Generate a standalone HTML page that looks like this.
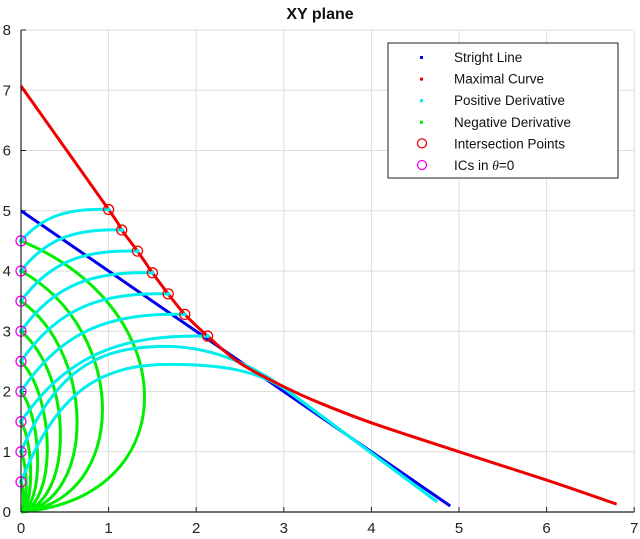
<!DOCTYPE html>
<html><head><meta charset="utf-8"><style>
html,body{margin:0;padding:0;background:#fff;}
svg{display:block;font-family:"Liberation Sans",sans-serif;}
</style></head><body>
<svg id="chart" width="640" height="539"></svg>
<script>
const xTicks=[0,1,2,3,4,5,6,7];
const yTicks=[0,1,2,3,4,5,6,7,8];
const lineX=[0,4.9];
const lineY=[5,0.1];
const maxX=[0,1.0,1.15,1.33,1.5,1.68,1.87,2.13,2.5,3,3.41,4,5,6,6.8];
const maxY=[7.07,5.02,4.68,4.33,3.97,3.62,3.28,2.92,2.47,2.08,1.81,1.48,1.0,0.53,0.13];
const icY=[0.5,1,1.5,2,2.5,3,3.5,4,4.5];
const circX=[2.13,1.87,1.68,1.5,1.33,1.15,1.0];
const circY=[2.92,3.28,3.62,3.97,4.33,4.68,5.02];
const greenBulge=[0.03,0.06,0.11,0.19,0.30,0.45,0.64,0.93,1.41];
const tailPeakX=[1.7,1.65];
const tailPeakY=[2.45,2.75];

const X0=21,UX=87.6,Y0=512,UY=60.25;
const sx=v=>X0+v*UX, sy=v=>Y0-v*UY;
const svg=document.getElementById('chart');
const NS='http://www.w3.org/2000/svg';
function mk(tag,attrs,parent){const e=document.createElementNS(NS,tag);for(const k in attrs)e.setAttribute(k,attrs[k]);(parent||svg).appendChild(e);return e;}

const grid=mk('g',{});


xTicks.forEach(t=>{mk('line',{x1:sx(t),x2:sx(t),y1:sy(0),y2:sy(8),stroke:'#dedede','stroke-width':1},grid);});
yTicks.forEach(t=>{mk('line',{x1:sx(0),x2:sx(7),y1:sy(t),y2:sy(t),stroke:'#dedede','stroke-width':1},grid);});

const xl=mk('g',{});


xTicks.forEach(t=>{
  mk('line',{x1:sx(t),x2:sx(t),y1:Y0,y2:Y0-5,stroke:'#222'},xl);
  const tx=mk('text',{x:sx(t),y:533,'font-size':15,'text-anchor':'middle',fill:'#222'},xl);tx.textContent=t;
});
const yl=mk('g',{});


yTicks.forEach(t=>{
  mk('line',{x1:X0,x2:X0+5,y1:sy(t),y2:sy(t),stroke:'#222'},yl);
  const tx=mk('text',{x:11,y:sy(t)+5,'font-size':15,'text-anchor':'end',fill:'#222'},yl);tx.textContent=t;
});

function smooth(pts){
  let d='M'+pts[0][0]+','+pts[0][1];
  for(let i=0;i<pts.length-1;i++){
    const p0=pts[Math.max(0,i-1)],p1=pts[i],p2=pts[i+1],p3=pts[Math.min(pts.length-1,i+2)];
    const c1=[p1[0]+(p2[0]-p0[0])/6,p1[1]+(p2[1]-p0[1])/6];
    const c2=[p2[0]-(p3[0]-p1[0])/6,p2[1]-(p3[1]-p1[1])/6];
    d+=' C'+c1+' '+c2+' '+p2;
  }
  return d;
}

const gg=mk('g',{});


icY.forEach((y0,i)=>{
  const a=greenBulge[i]*4/3;
  const p=mk('path',{d:`M${sx(0)},${sy(y0)} C${sx(a)},${sy(y0*0.75)} ${sx(a)},${sy(y0*0.05)} ${sx(0)},${sy(0)}`,fill:'none',stroke:'#00ee00','stroke-width':3},gg);
  
  
});

const bl=mk('line',{x1:sx(lineX[0]),y1:sy(lineY[0]),x2:sx(lineX[1]),y2:sy(lineY[1]),stroke:'#0000ee','stroke-width':3});



const cg=mk('g',{});


for(let k=0;k<7;k++){
  const y0=icY[8-k], xc=circX[6-k], yc=circY[6-k];
  const p=mk('path',{d:`M${sx(0)},${sy(y0)} C${sx(xc*0.25)},${sy(y0+(yc-y0)*0.8)} ${sx(xc*0.55)},${sy(yc+0.03)} ${sx(xc)},${sy(yc)}`,fill:'none',stroke:'#00eeee','stroke-width':3},cg);
  
  
}
for(let k=0;k<2;k++){
  const y0=icY[k], px=tailPeakX[k], py=tailPeakY[k];
  const path=`M${sx(0)},${sy(y0)} C${sx(px*0.25)},${sy(y0+(py-y0)*0.8)} ${sx(px*0.55)},${sy(py)} ${sx(px)},${sy(py)}`+
    ` C${sx(px+0.6)},${sy(py)} ${sx(2.75)},${sy(2.35)} ${sx(3.1)},${sy(1.95)} L${sx(4.75)},${sy(0.17)}`;
  const p=mk('path',{d:path,fill:'none',stroke:'#00eeee','stroke-width':3},cg);
  
  
}

const rp=[];for(let i=0;i<maxX.length;i++)rp.push([sx(maxX[i]),sy(maxY[i])]);
const rline=mk('path',{d:smooth(rp),fill:'none',stroke:'#ee0000','stroke-width':3});



const ig=mk('g',{});


circX.forEach((x,i)=>{
  mk('circle',{cx:sx(x),cy:sy(circY[i]),r:2,fill:'#00eeee'},ig);
  const c=mk('circle',{cx:sx(x),cy:sy(circY[i]),r:5,fill:'none',stroke:'#ee0000','stroke-width':1.3},ig);
  
  
});
const icg=mk('g',{});


icY.forEach(y=>{
  mk('circle',{cx:sx(0),cy:sy(y),r:2,fill:'#00eeee'},icg);
  const c=mk('circle',{cx:sx(0),cy:sy(y),r:5,fill:'none',stroke:'#ee00ee','stroke-width':1.3},icg);
  
  
});

mk('line',{x1:X0,x2:X0,y1:sy(8),y2:Y0,stroke:'#222','stroke-width':1.2});
mk('line',{x1:X0,x2:sx(7),y1:Y0,y2:Y0,stroke:'#222','stroke-width':1.2});

const t=mk('text',{x:320,y:19,'font-size':16,'font-weight':'bold','text-anchor':'middle',fill:'#111'});
t.textContent='XY plane';



const lg=mk('g',{});


mk('rect',{x:388,y:43,width:230,height:135,fill:'#fff',stroke:'#222','stroke-width':1},lg);
const labels=['Stright Line','Maximal Curve','Positive Derivative','Negative Derivative','Intersection Points','ICs in '];
const cols=['#0000ee','#ee0000','#00eeee','#00ee00','#ee0000','#ee00ee'];
labels.forEach((s,i)=>{
  const y=57+i*21.6;
  const e=mk('g',{},lg);
  
  
  if(i<4) mk('rect',{x:420,y:y-1,width:3,height:3,fill:cols[i]},e);
  else mk('circle',{cx:422,cy:y,r:4.5,fill:'none',stroke:cols[i],'stroke-width':1.3},e);
  const tx=mk('text',{x:454,y:y+5,'font-size':13.5,fill:'#111'},e);
  tx.textContent=s;
  if(i===5){const ts=mk('tspan',{'font-style':'italic','font-family':'Liberation Serif'},tx);ts.textContent='θ';const t2=mk('tspan',{},tx);t2.textContent='=0';}
});
</script>
</body></html>
